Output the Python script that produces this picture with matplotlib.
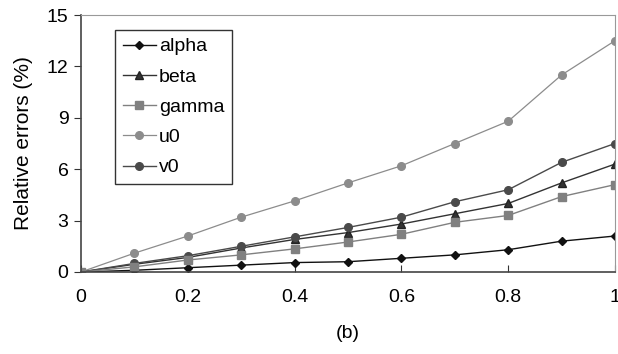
import matplotlib
matplotlib.use("Agg")
import matplotlib.pyplot as plt

x = [0, 0.1, 0.2, 0.3, 0.4, 0.5, 0.6, 0.7, 0.8, 0.9, 1.0]
alpha = [0, 0.1, 0.25, 0.4, 0.55, 0.6, 0.8, 1.0, 1.3, 1.8, 2.1]
beta = [0, 0.45, 0.85, 1.4, 1.9, 2.3, 2.8, 3.4, 4.0, 5.2, 6.3]
gamma = [0, 0.3, 0.7, 1.0, 1.35, 1.75, 2.2, 2.9, 3.3, 4.4, 5.1]
u0 = [0, 1.1, 2.1, 3.2, 4.15, 5.2, 6.2, 7.5, 8.8, 11.5, 13.5]
v0 = [0, 0.5, 0.95, 1.5, 2.05, 2.6, 3.2, 4.1, 4.8, 6.4, 7.5]
xticks = [0, 0.2, 0.4, 0.6, 0.8, 1]
xticklabels = ["0", "0.2", "0.4", "0.6", "0.8", "1"]
yticks = [0, 3, 6, 9, 12, 15]

plt.rcParams['font.family'] = ['Liberation Sans', 'DejaVu Sans']
fig = plt.figure(figsize=(6.18, 3.54), dpi=100)
ax = fig.add_axes([81/618, 1-272/354, (615-81)/618, (272-15)/354])

ax.plot(x, alpha, color='#111111', marker='D', ms=4.5, lw=1.0, label='alpha')
ax.plot(x, beta, color='#333333', marker='^', ms=6, lw=1.0, label='beta', markeredgecolor='#222222')
ax.plot(x, u0, color='#8c8c8c', marker='o', ms=5.5, lw=0.9, label='u0')
ax.plot(x, v0, color='#4a4a4a', marker='o', ms=5.5, lw=1.0, label='v0')
ax.plot(x, gamma, color='#808080', marker='s', ms=6, lw=1.0, label='gamma')

handles, labels = ax.get_legend_handles_labels()
order = [0, 1, 4, 2, 3]
handles = [handles[i] for i in order]
labels = [labels[i] for i in order]

ax.set_xlim(0, 1)
ax.set_ylim(0, 15)
ax.set_xticks(xticks)
ax.set_xticklabels(xticklabels)
ax.set_yticks(yticks)
ax.tick_params(axis='x', direction='in', length=5, pad=12, labelsize=14, color='#333333')
ax.tick_params(axis='y', direction='out', length=5, pad=4, labelsize=14, color='#333333')
for s in ['top', 'right']:
    ax.spines[s].set_color('#999999')
for s in ['left', 'bottom']:
    ax.spines[s].set_color('#444444')
    ax.spines[s].set_linewidth(1.2)
ax.set_ylabel('Relative errors (%)', fontsize=15, labelpad=10)
ax.set_xlabel('(b)', fontsize=14, labelpad=14)

leg = ax.legend(handles, labels, loc='upper left', bbox_to_anchor=(34/534, 1-15/257), fontsize=14,
                frameon=True, fancybox=False, edgecolor='black', handlelength=1.7,
                labelspacing=0.65, borderpad=0.4, handletextpad=0.15, borderaxespad=0)
leg.get_frame().set_linewidth(1.0)

fig.savefig('out.png', dpi=100)
